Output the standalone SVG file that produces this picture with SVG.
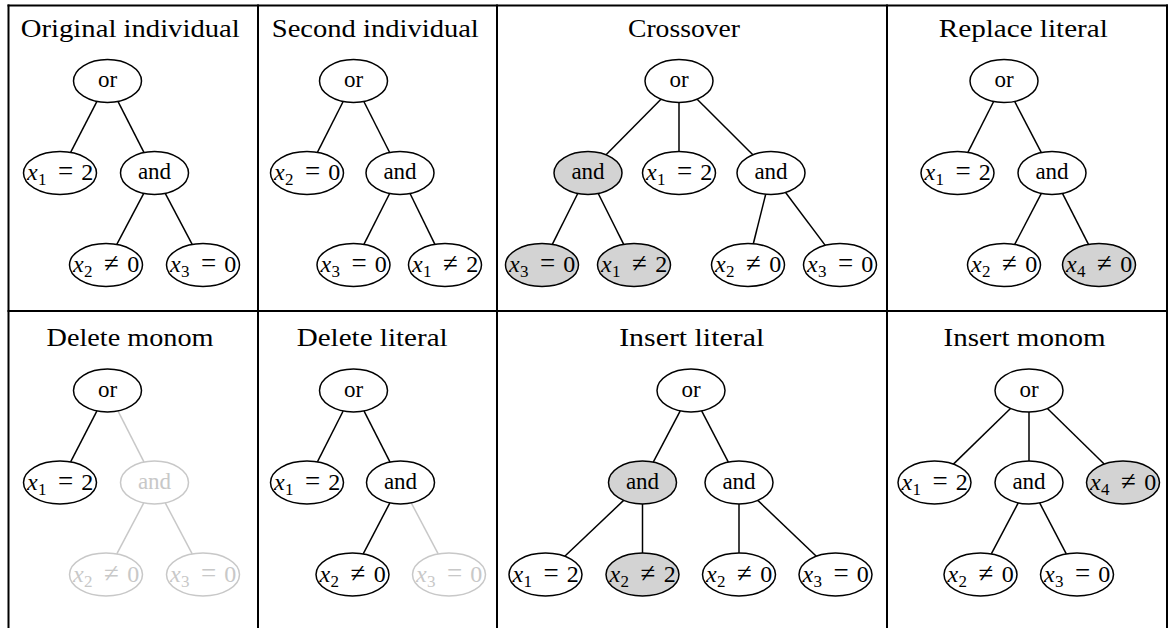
<svg xmlns="http://www.w3.org/2000/svg" width="1168" height="628" viewBox="0 0 1168 628">
  <style>
    text { fill: #000; }
    .title { font-size: 25px; text-anchor: middle; }
    .op { font-size: 23px; text-anchor: middle; }
    .m { font-size: 24px; }
    .v { font-style: italic; }
    .s { font-size: 17px; }
    .r { font-size: 27px; }
    .node ellipse { fill: #fff; stroke: #000; stroke-width: 1.5; }
    .node.hl ellipse { fill: #d3d3d3; }
    .node.fade ellipse { stroke: #c8c8c8; }
    .node.fade text { fill: #c8c8c8; }
    .frame line { stroke: #000; stroke-width: 2; }
    .edges line { stroke: #000; stroke-width: 1.5; }
    .edges line.fade { stroke: #c8c8c8; }
  </style>

  <rect width="1168" height="628" fill="#fff"/>

  <!-- table frame -->
  <g class="frame">
    <line x1="7.5" y1="5.5" x2="1168" y2="5.5"/>
    <line x1="8.5" y1="4.5" x2="8.5" y2="628"/>
    <line x1="258" y1="4.5" x2="258" y2="628"/>
    <line x1="497" y1="4.5" x2="497" y2="628"/>
    <line x1="887" y1="4.5" x2="887" y2="628"/>
    <line x1="1167" y1="4.5" x2="1167" y2="628"/>
    <line x1="7.5" y1="311" x2="1168" y2="311"/>
  </g>

  <g font-family="'Liberation Serif', 'DejaVu Serif', 'Times New Roman', serif">
  <!-- panel titles -->
  <g id="titles">
    <text class="title" x="130.3" y="37" textLength="219" lengthAdjust="spacingAndGlyphs">Original individual</text>
    <text class="title" x="375.3" y="37" textLength="207" lengthAdjust="spacingAndGlyphs">Second individual</text>
    <text class="title" x="684" y="37" textLength="112" lengthAdjust="spacingAndGlyphs">Crossover</text>
    <text class="title" x="1023.3" y="37" textLength="169" lengthAdjust="spacingAndGlyphs">Replace literal</text>
    <text class="title" x="130" y="346" textLength="167" lengthAdjust="spacingAndGlyphs">Delete monom</text>
    <text class="title" x="372.2" y="346" textLength="151" lengthAdjust="spacingAndGlyphs">Delete literal</text>
    <text class="title" x="691.7" y="346" textLength="145" lengthAdjust="spacingAndGlyphs">Insert literal</text>
    <text class="title" x="1024.5" y="346" textLength="162" lengthAdjust="spacingAndGlyphs">Insert monom</text>
  </g>

  <!-- tree edges -->
  <g class="edges">
    <!-- original individual -->
    <line x1="96.95" y1="101.44" x2="70.62" y2="152.43"/>
    <line x1="117.95" y1="101.46" x2="144.05" y2="152.54"/>
    <line x1="143.75" y1="193.39" x2="116.82" y2="244.47"/>
    <line x1="165.25" y1="193.39" x2="192.18" y2="244.47"/>
    <!-- second individual -->
    <line x1="343.15" y1="101.48" x2="317.41" y2="152.4"/>
    <line x1="363.85" y1="101.48" x2="389.65" y2="152.52"/>
    <line x1="389.65" y1="193.48" x2="363.91" y2="244.4"/>
    <line x1="410.05" y1="193.54" x2="434.9" y2="244.34"/>
    <!-- crossover -->
    <line x1="660.97" y1="99.23" x2="606.03" y2="154.77"/>
    <line x1="679" y1="102.5" x2="679" y2="151.5"/>
    <line x1="697.17" y1="99.17" x2="752.83" y2="154.83"/>
    <line x1="577.75" y1="193.5" x2="552.31" y2="244.37"/>
    <line x1="598.25" y1="193.5" x2="623.69" y2="244.37"/>
    <line x1="765.69" y1="194.24" x2="753.32" y2="243.73"/>
    <line x1="785.57" y1="192.43" x2="825.25" y2="245.33"/>
    <!-- replace literal -->
    <line x1="993.65" y1="101.48" x2="967.91" y2="152.4"/>
    <line x1="1014.65" y1="101.42" x2="1041.35" y2="152.58"/>
    <line x1="1041.35" y1="193.42" x2="1014.72" y2="244.45"/>
    <line x1="1062.45" y1="193.46" x2="1088.48" y2="244.41"/>
    <!-- delete monom -->
    <line x1="96.95" y1="410.94" x2="70.62" y2="461.93"/>
    <line class="fade" x1="117.95" y1="410.96" x2="144.05" y2="462.04"/>
    <line class="fade" x1="143.75" y1="502.89" x2="116.82" y2="553.97"/>
    <line class="fade" x1="165.25" y1="502.89" x2="192.18" y2="553.97"/>
    <!-- delete literal -->
    <line x1="343.15" y1="410.98" x2="317.41" y2="461.9"/>
    <line x1="363.95" y1="410.96" x2="390.05" y2="462.04"/>
    <line x1="389.85" y1="502.92" x2="363.22" y2="553.95"/>
    <line class="fade" x1="411.25" y1="502.89" x2="438.18" y2="553.97"/>
    <!-- insert literal -->
    <line x1="680.25" y1="410.89" x2="653.25" y2="462.11"/>
    <line x1="701.65" y1="410.92" x2="728.35" y2="462.08"/>
    <line x1="623.64" y1="500.39" x2="564.76" y2="556.24"/>
    <line x1="642.5" y1="504" x2="642.5" y2="553"/>
    <line x1="739" y1="504" x2="739" y2="553"/>
    <line x1="757.79" y1="500.41" x2="816.32" y2="556.21"/>
    <!-- insert monom -->
    <line x1="1010.48" y1="408.53" x2="953.4" y2="464.1"/>
    <line x1="1029" y1="412" x2="1029" y2="461"/>
    <line x1="1047.44" y1="408.55" x2="1104.18" y2="464.08"/>
    <line x1="1018.25" y1="502.89" x2="991.32" y2="553.97"/>
    <line x1="1039.65" y1="502.92" x2="1066.28" y2="553.95"/>
  </g>

  <!-- Original individual -->
  <g id="p1-or" class="node"><ellipse cx="107.5" cy="81" rx="34" ry="21.5"/><text class="op" x="107.5" y="87">or</text></g>
  <g id="p1-x1eq2" class="node"><ellipse cx="60" cy="173" rx="36.5" ry="21.5"/><text class="m" y="180"><tspan class="v" x="27">x</tspan><tspan class="s" x="38" dy="5">1</tspan><tspan class="r" x="58" dy="-5">=</tspan><tspan x="81.3">2</tspan></text></g>
  <g id="p1-and" class="node"><ellipse cx="154.5" cy="173" rx="34" ry="21.5"/><text class="op" x="154.5" y="179">and</text></g>
  <g id="p1-x2ne0" class="node"><ellipse cx="106" cy="265" rx="36.5" ry="21.5"/><text class="m" y="272"><tspan class="v" x="73">x</tspan><tspan class="s" x="84" dy="5">2</tspan><tspan class="r" x="104" dy="-5">≠</tspan><tspan x="127.3">0</tspan></text></g>
  <g id="p1-x3eq0" class="node"><ellipse cx="203" cy="265" rx="36.5" ry="21.5"/><text class="m" y="272"><tspan class="v" x="170">x</tspan><tspan class="s" x="181" dy="5">3</tspan><tspan class="r" x="201" dy="-5">=</tspan><tspan x="224.3">0</tspan></text></g>

  <!-- Second individual -->
  <g id="p2-or" class="node"><ellipse cx="353.5" cy="81" rx="34" ry="21.5"/><text class="op" x="353.5" y="87">or</text></g>
  <g id="p2-x2eq0" class="node"><ellipse cx="307" cy="173" rx="36.5" ry="21.5"/><text class="m" y="180"><tspan class="v" x="274">x</tspan><tspan class="s" x="285" dy="5">2</tspan><tspan class="r" x="305" dy="-5">=</tspan><tspan x="328.3">0</tspan></text></g>
  <g id="p2-and" class="node"><ellipse cx="400" cy="173" rx="34" ry="21.5"/><text class="op" x="400" y="179">and</text></g>
  <g id="p2-x3eq0" class="node"><ellipse cx="353.5" cy="265" rx="36.5" ry="21.5"/><text class="m" y="272"><tspan class="v" x="320.5">x</tspan><tspan class="s" x="331.5" dy="5">3</tspan><tspan class="r" x="351.5" dy="-5">=</tspan><tspan x="374.8">0</tspan></text></g>
  <g id="p2-x1ne2" class="node"><ellipse cx="445" cy="265" rx="36.5" ry="21.5"/><text class="m" y="272"><tspan class="v" x="412">x</tspan><tspan class="s" x="423" dy="5">1</tspan><tspan class="r" x="443" dy="-5">≠</tspan><tspan x="466.3">2</tspan></text></g>

  <!-- Crossover -->
  <g id="p3-or" class="node"><ellipse cx="679" cy="81" rx="34" ry="21.5"/><text class="op" x="679" y="87">or</text></g>
  <g id="p3-and-a" class="node hl"><ellipse cx="588" cy="173" rx="34" ry="21.5"/><text class="op" x="588" y="179">and</text></g>
  <g id="p3-x1eq2" class="node"><ellipse cx="679" cy="173" rx="36.5" ry="21.5"/><text class="m" y="180"><tspan class="v" x="646">x</tspan><tspan class="s" x="657" dy="5">1</tspan><tspan class="r" x="677" dy="-5">=</tspan><tspan x="700.3">2</tspan></text></g>
  <g id="p3-and-b" class="node"><ellipse cx="771" cy="173" rx="34" ry="21.5"/><text class="op" x="771" y="179">and</text></g>
  <g id="p3-x3eq0-a" class="node hl"><ellipse cx="542" cy="265" rx="36.5" ry="21.5"/><text class="m" y="272"><tspan class="v" x="509">x</tspan><tspan class="s" x="520" dy="5">3</tspan><tspan class="r" x="540" dy="-5">=</tspan><tspan x="563.3">0</tspan></text></g>
  <g id="p3-x1ne2" class="node hl"><ellipse cx="634" cy="265" rx="36.5" ry="21.5"/><text class="m" y="272"><tspan class="v" x="601">x</tspan><tspan class="s" x="612" dy="5">1</tspan><tspan class="r" x="632" dy="-5">≠</tspan><tspan x="655.3">2</tspan></text></g>
  <g id="p3-x2ne0" class="node"><ellipse cx="748" cy="265" rx="36.5" ry="21.5"/><text class="m" y="272"><tspan class="v" x="715">x</tspan><tspan class="s" x="726" dy="5">2</tspan><tspan class="r" x="746" dy="-5">≠</tspan><tspan x="769.3">0</tspan></text></g>
  <g id="p3-x3eq0-b" class="node"><ellipse cx="840" cy="265" rx="36.5" ry="21.5"/><text class="m" y="272"><tspan class="v" x="807">x</tspan><tspan class="s" x="818" dy="5">3</tspan><tspan class="r" x="838" dy="-5">=</tspan><tspan x="861.3">0</tspan></text></g>

  <!-- Replace literal -->
  <g id="p4-or" class="node"><ellipse cx="1004" cy="81" rx="34" ry="21.5"/><text class="op" x="1004" y="87">or</text></g>
  <g id="p4-x1eq2" class="node"><ellipse cx="957.5" cy="173" rx="36.5" ry="21.5"/><text class="m" y="180"><tspan class="v" x="924.5">x</tspan><tspan class="s" x="935.5" dy="5">1</tspan><tspan class="r" x="955.5" dy="-5">=</tspan><tspan x="978.8">2</tspan></text></g>
  <g id="p4-and" class="node"><ellipse cx="1052" cy="173" rx="34" ry="21.5"/><text class="op" x="1052" y="179">and</text></g>
  <g id="p4-x2ne0" class="node"><ellipse cx="1004" cy="265" rx="36.5" ry="21.5"/><text class="m" y="272"><tspan class="v" x="971">x</tspan><tspan class="s" x="982" dy="5">2</tspan><tspan class="r" x="1002" dy="-5">≠</tspan><tspan x="1025.3">0</tspan></text></g>
  <g id="p4-x4ne0" class="node hl"><ellipse cx="1099" cy="265" rx="36.5" ry="21.5"/><text class="m" y="272"><tspan class="v" x="1066">x</tspan><tspan class="s" x="1077" dy="5">4</tspan><tspan class="r" x="1097" dy="-5">≠</tspan><tspan x="1120.3">0</tspan></text></g>

  <!-- Delete monom -->
  <g id="p5-or" class="node"><ellipse cx="107.5" cy="390.5" rx="34" ry="21.5"/><text class="op" x="107.5" y="396.5">or</text></g>
  <g id="p5-x1eq2" class="node"><ellipse cx="60" cy="482.5" rx="36.5" ry="21.5"/><text class="m" y="489.5"><tspan class="v" x="27">x</tspan><tspan class="s" x="38" dy="5">1</tspan><tspan class="r" x="58" dy="-5">=</tspan><tspan x="81.3">2</tspan></text></g>
  <g id="p5-and" class="node fade"><ellipse cx="154.5" cy="482.5" rx="34" ry="21.5"/><text class="op" x="154.5" y="488.5">and</text></g>
  <g id="p5-x2ne0" class="node fade"><ellipse cx="106" cy="574.5" rx="36.5" ry="21.5"/><text class="m" y="581.5"><tspan class="v" x="73">x</tspan><tspan class="s" x="84" dy="5">2</tspan><tspan class="r" x="104" dy="-5">≠</tspan><tspan x="127.3">0</tspan></text></g>
  <g id="p5-x3eq0" class="node fade"><ellipse cx="203" cy="574.5" rx="36.5" ry="21.5"/><text class="m" y="581.5"><tspan class="v" x="170">x</tspan><tspan class="s" x="181" dy="5">3</tspan><tspan class="r" x="201" dy="-5">=</tspan><tspan x="224.3">0</tspan></text></g>

  <!-- Delete literal -->
  <g id="p6-or" class="node"><ellipse cx="353.5" cy="390.5" rx="34" ry="21.5"/><text class="op" x="353.5" y="396.5">or</text></g>
  <g id="p6-x1eq2" class="node"><ellipse cx="307" cy="482.5" rx="36.5" ry="21.5"/><text class="m" y="489.5"><tspan class="v" x="274">x</tspan><tspan class="s" x="285" dy="5">1</tspan><tspan class="r" x="305" dy="-5">=</tspan><tspan x="328.3">2</tspan></text></g>
  <g id="p6-and" class="node"><ellipse cx="400.5" cy="482.5" rx="34" ry="21.5"/><text class="op" x="400.5" y="488.5">and</text></g>
  <g id="p6-x2ne0" class="node"><ellipse cx="352.5" cy="574.5" rx="36.5" ry="21.5"/><text class="m" y="581.5"><tspan class="v" x="319.5">x</tspan><tspan class="s" x="330.5" dy="5">2</tspan><tspan class="r" x="350.5" dy="-5">≠</tspan><tspan x="373.8">0</tspan></text></g>
  <g id="p6-x3eq0" class="node fade"><ellipse cx="449" cy="574.5" rx="36.5" ry="21.5"/><text class="m" y="581.5"><tspan class="v" x="416">x</tspan><tspan class="s" x="427" dy="5">3</tspan><tspan class="r" x="447" dy="-5">=</tspan><tspan x="470.3">0</tspan></text></g>

  <!-- Insert literal -->
  <g id="p7-or" class="node"><ellipse cx="691" cy="390.5" rx="34" ry="21.5"/><text class="op" x="691" y="396.5">or</text></g>
  <g id="p7-and-a" class="node hl"><ellipse cx="642.5" cy="482.5" rx="34" ry="21.5"/><text class="op" x="642.5" y="488.5">and</text></g>
  <g id="p7-and-b" class="node"><ellipse cx="739" cy="482.5" rx="34" ry="21.5"/><text class="op" x="739" y="488.5">and</text></g>
  <g id="p7-x1eq2" class="node"><ellipse cx="545.5" cy="574.5" rx="36.5" ry="21.5"/><text class="m" y="581.5"><tspan class="v" x="512.5">x</tspan><tspan class="s" x="523.5" dy="5">1</tspan><tspan class="r" x="543.5" dy="-5">=</tspan><tspan x="566.8">2</tspan></text></g>
  <g id="p7-x2ne2" class="node hl"><ellipse cx="642.5" cy="574.5" rx="36.5" ry="21.5"/><text class="m" y="581.5"><tspan class="v" x="609.5">x</tspan><tspan class="s" x="620.5" dy="5">2</tspan><tspan class="r" x="640.5" dy="-5">≠</tspan><tspan x="663.8">2</tspan></text></g>
  <g id="p7-x2ne0" class="node"><ellipse cx="739" cy="574.5" rx="36.5" ry="21.5"/><text class="m" y="581.5"><tspan class="v" x="706">x</tspan><tspan class="s" x="717" dy="5">2</tspan><tspan class="r" x="737" dy="-5">≠</tspan><tspan x="760.3">0</tspan></text></g>
  <g id="p7-x3eq0" class="node"><ellipse cx="835.5" cy="574.5" rx="36.5" ry="21.5"/><text class="m" y="581.5"><tspan class="v" x="802.5">x</tspan><tspan class="s" x="813.5" dy="5">3</tspan><tspan class="r" x="833.5" dy="-5">=</tspan><tspan x="856.8">0</tspan></text></g>

  <!-- Insert monom -->
  <g id="p8-or" class="node"><ellipse cx="1029" cy="390.5" rx="34" ry="21.5"/><text class="op" x="1029" y="396.5">or</text></g>
  <g id="p8-x1eq2" class="node"><ellipse cx="934.5" cy="482.5" rx="36.5" ry="21.5"/><text class="m" y="489.5"><tspan class="v" x="901.5">x</tspan><tspan class="s" x="912.5" dy="5">1</tspan><tspan class="r" x="932.5" dy="-5">=</tspan><tspan x="955.8">2</tspan></text></g>
  <g id="p8-and" class="node"><ellipse cx="1029" cy="482.5" rx="34" ry="21.5"/><text class="op" x="1029" y="488.5">and</text></g>
  <g id="p8-x4ne0" class="node hl"><ellipse cx="1123" cy="482.5" rx="36.5" ry="21.5"/><text class="m" y="489.5"><tspan class="v" x="1090">x</tspan><tspan class="s" x="1101" dy="5">4</tspan><tspan class="r" x="1121" dy="-5">≠</tspan><tspan x="1144.3">0</tspan></text></g>
  <g id="p8-x2ne0" class="node"><ellipse cx="980.5" cy="574.5" rx="36.5" ry="21.5"/><text class="m" y="581.5"><tspan class="v" x="947.5">x</tspan><tspan class="s" x="958.5" dy="5">2</tspan><tspan class="r" x="978.5" dy="-5">≠</tspan><tspan x="1001.8">0</tspan></text></g>
  <g id="p8-x3eq0" class="node"><ellipse cx="1077" cy="574.5" rx="36.5" ry="21.5"/><text class="m" y="581.5"><tspan class="v" x="1044">x</tspan><tspan class="s" x="1055" dy="5">3</tspan><tspan class="r" x="1075" dy="-5">=</tspan><tspan x="1098.3">0</tspan></text></g>
  </g>
</svg>
